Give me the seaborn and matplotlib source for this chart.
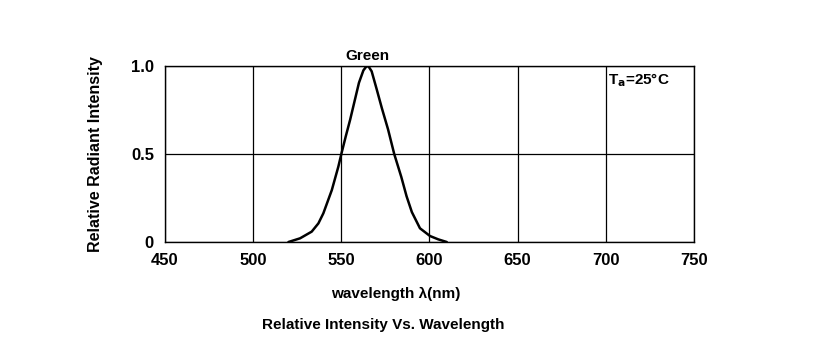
import numpy as np
import pandas as pd
import matplotlib
matplotlib.use("Agg")
import matplotlib.pyplot as plt
import seaborn as sns

# spectrum values
wavelength = [520, 526.6, 533.2, 537, 539.8, 544.6, 548.3, 550, 552.5, 555, 557.5, 560, 562.5, 564.0, 564.8,
              565.6, 567.2, 570, 573, 576.5, 580, 584, 587, 590, 594.6, 600.3, 605, 609.8]
intensity = [0.0, 0.021, 0.059, 0.106, 0.163, 0.295, 0.428, 0.5, 0.6, 0.695, 0.80, 0.905, 0.975, 0.995, 1.0,
             0.995, 0.97, 0.87, 0.76, 0.64, 0.5, 0.37, 0.26, 0.17, 0.078, 0.034, 0.015, 0.0]
xticks = [450, 500, 550, 600, 650, 700, 750]
yticks = [0, 0.5, 1.0]
ytick_labels = ["0", "0.5", "1.0"]

df = pd.DataFrame({"wavelength": wavelength, "intensity": intensity})

sns.set_style("white")
plt.rcParams["font.family"] = ["Liberation Sans", "DejaVu Sans"]
plt.rcParams["font.weight"] = "bold"
plt.rcParams["text.color"] = "black"
plt.rcParams["axes.labelcolor"] = "black"
plt.rcParams["xtick.color"] = "black"
plt.rcParams["ytick.color"] = "black"

fig = plt.figure(figsize=(8.25, 3.63), dpi=100)
ax = fig.add_axes([0.2, 0.3333, 0.6412, 0.4848])

sns.lineplot(data=df, x="wavelength", y="intensity", ax=ax, color="black", lw=1.8)

ax.set_xlim(450, 750)
ax.set_ylim(0, 1.0)
ax.set_xticks(xticks)
ax.set_yticks(yticks)
ax.set_yticklabels(ytick_labels)
ax.tick_params(length=0, labelsize=12, pad=8)
for lab in ax.get_xticklabels() + ax.get_yticklabels():
    lab.set_fontweight("bold")
ax.grid(True, color="black", lw=0.9)
for s in ax.spines.values():
    s.set_color("black")
    s.set_linewidth(1.0)

ax.set_xlabel("")
ax.set_ylabel("Relative Radiant Intensity", fontsize=11.5, fontweight="bold", labelpad=20)
fig.text(0.48, 0.18, "wavelength \u03bb(nm)", ha="center", fontsize=11, fontweight="bold")
fig.text(0.465, 0.095, "Relative Intensity Vs. Wavelength", ha="center", fontsize=11, fontweight="bold")
ax.text(565, 1.02, "Green", ha="center", va="bottom", fontsize=11, fontweight="bold")
ax.text(736, 0.92, "T$_\\mathbf{a}$=25°C", ha="right", va="center", fontsize=11, fontweight="bold")

fig.savefig("out.png", dpi=100)
